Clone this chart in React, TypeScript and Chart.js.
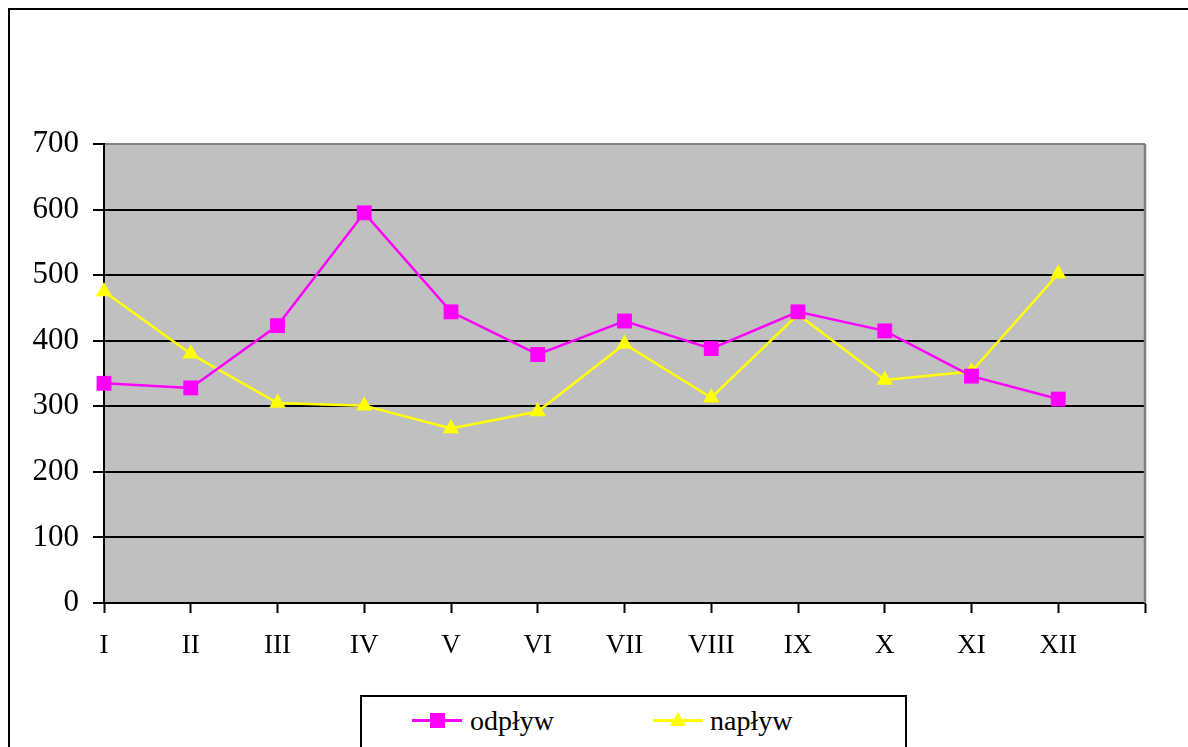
import React, { useEffect, useRef } from "react";
import { Chart, registerables } from "chart.js";

Chart.register(...registerables);

const months = ["I", "II", "III", "IV", "V", "VI", "VII", "VIII", "IX", "X", "XI", "XII"];
const axisSlots = [...months, ""];
const odplyw = [335, 328, 423, 595, 444, 379, 430, 388, 444, 415, 346, 311];
const naplyw = [475, 380, 305, 301, 266, 292, 395, 313, 440, 340, 353, 502];
const yMin = 0;
const yMax = 700;
const yStep = 100;

const FONT = '"Liberation Serif", "Times New Roman", "DejaVu Serif", serif';
const MAGENTA = "#FF00FF";
const YELLOW = "#FFFF00";

const plotBg = {
  id: "plotBg",
  beforeDraw(chart: any) {
    const { ctx, chartArea: a } = chart;
    ctx.save();
    ctx.fillStyle = "#C0C0C0";
    ctx.fillRect(a.left, a.top, a.right - a.left, a.bottom - a.top);
    ctx.restore();
  },
  beforeDatasetsDraw(chart: any) {
    const { ctx, chartArea: a } = chart;
    ctx.save();
    ctx.strokeStyle = "#808080";
    ctx.lineWidth = 2.5;
    ctx.beginPath();
    ctx.moveTo(a.right, a.top);
    ctx.lineTo(a.right, a.bottom);
    ctx.stroke();
    ctx.restore();
  },
};

export default function App() {
  const ref = useRef<HTMLCanvasElement>(null);
  useEffect(() => {
    if (!ref.current) return;
    const chart = new Chart(ref.current, {
      type: "line",
      data: {
        labels: axisSlots,
        datasets: [
          {
            label: "odpływ",
            data: odplyw,
            borderColor: MAGENTA,
            backgroundColor: MAGENTA,
            borderWidth: 2.5,
            pointStyle: "rect",
            pointRadius: 10.5,
            pointBorderWidth: 0,
            pointBackgroundColor: MAGENTA,
            tension: 0,
            clip: false as any,
          },
          {
            label: "napływ",
            data: naplyw,
            borderColor: YELLOW,
            backgroundColor: YELLOW,
            borderWidth: 2.5,
            pointStyle: "triangle",
            pointRadius: 9.5,
            pointBorderWidth: 0,
            pointBackgroundColor: YELLOW,
            tension: 0,
            clip: false as any,
          },
        ],
      },
      options: {
        animation: false,
        responsive: false,
        maintainAspectRatio: false,
        layout: { padding: { left: 0, top: 134, right: 43, bottom: 64 } },
        plugins: { legend: { display: false }, tooltip: { enabled: false } },
        scales: {
          x: {
            type: "category",
            offset: false,
            grid: {
              drawOnChartArea: false,
              drawTicks: true,
              tickLength: 10,
              tickWidth: 2,
              tickColor: "#000",
            },
            border: { color: "#000", width: 2 },
            ticks: {
              autoSkip: false,
              maxRotation: 0,
              padding: 17,
              color: "#000",
              font: { family: FONT, size: 27 },
            },
            afterFit(scale: any) {
              scale.height = 80;
            },
          },
          y: {
            min: yMin,
            max: yMax,
            grid: {
              color: (c: any) => (c.tick && c.tick.value === yMax ? "#808080" : "#000"),
              lineWidth: 2,
              tickLength: 11,
              tickWidth: 2,
              tickColor: "#000",
            },
            border: { color: "#000", width: 2 },
            ticks: {
              stepSize: yStep,
              padding: 14,
              color: "#000",
              font: { family: FONT, size: 31 },
            },
            afterFit(scale: any) {
              scale.width = 94;
            },
          },
        },
      },
      plugins: [plotBg],
    });
    return () => chart.destroy();
  }, []);

  const legendText: React.CSSProperties = {
    position: "absolute",
    fontFamily: FONT,
    fontSize: 28,
    lineHeight: "28px",
    color: "#000",
    whiteSpace: "nowrap",
  };

  return (
    <div
      style={{
        position: "absolute",
        left: 8,
        top: 8,
        width: 1180,
        height: 739,
        overflow: "hidden",
        borderLeft: "2px solid #000",
        borderTop: "2px solid #000",
        boxSizing: "border-box",
        background: "#fff",
      }}
    >
      <canvas ref={ref} width={1178} height={737} style={{ position: "absolute", left: 0, top: 0 }} />
      <div
        style={{
          position: "absolute",
          left: 350,
          top: 685,
          width: 547,
          height: 90,
          border: "2px solid #000",
          boxSizing: "border-box",
          background: "#fff",
        }}
      >
        <div style={{ position: "absolute", left: 50, top: 22, width: 50, height: 2.5, background: MAGENTA }} />
        <div style={{ position: "absolute", left: 68, top: 16, width: 15, height: 15, background: MAGENTA }} />
        <span style={{ ...legendText, left: 108, top: 10 }}>odpływ</span>
        <div style={{ position: "absolute", left: 291, top: 22, width: 50, height: 2.5, background: YELLOW }} />
        <div
          style={{
            position: "absolute",
            left: 308,
            top: 15,
            width: 0,
            height: 0,
            borderLeft: "8px solid transparent",
            borderRight: "8px solid transparent",
            borderBottom: "14px solid " + YELLOW,
          }}
        />
        <span style={{ ...legendText, left: 348, top: 10 }}>napływ</span>
      </div>
    </div>
  );
}
